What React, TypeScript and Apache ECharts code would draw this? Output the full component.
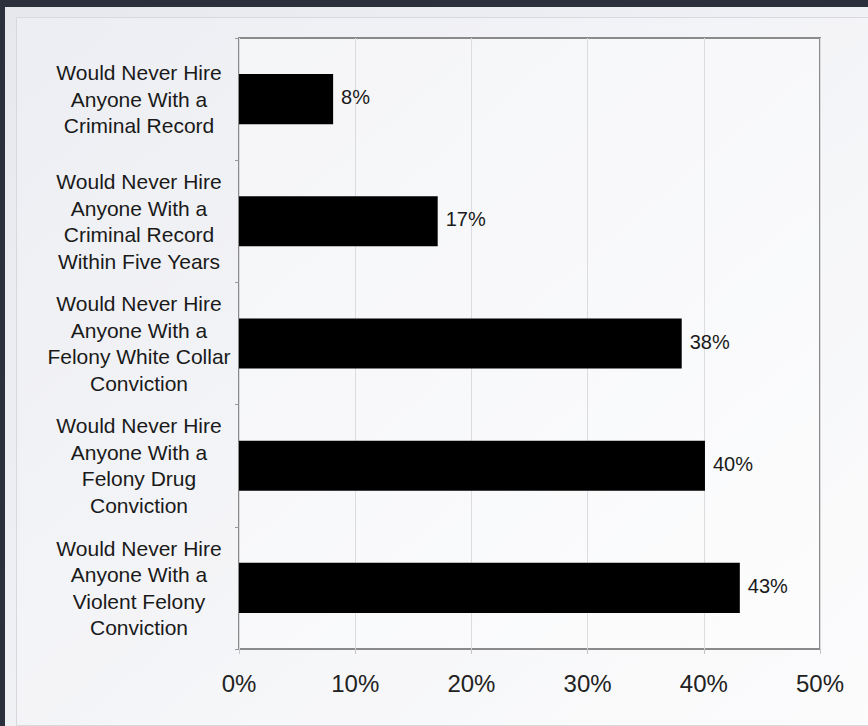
import React, { useEffect, useRef } from "react";
import * as echarts from "echarts";

const categories = [
  "Would Never Hire\nAnyone With a\nCriminal Record",
  "Would Never Hire\nAnyone With a\nCriminal Record\nWithin Five Years",
  "Would Never Hire\nAnyone With a\nFelony White Collar\nConviction",
  "Would Never Hire\nAnyone With a\nFelony Drug\nConviction",
  "Would Never Hire\nAnyone With a\nViolent Felony\nConviction",
];
const values = [8.1, 17.1, 38.1, 40.1, 43.1];
const valueLabels = ["8%", "17%", "38%", "40%", "43%"];

export default function App() {
  const ref = useRef<HTMLDivElement>(null);
  useEffect(() => {
    document.body.style.margin = "0";
    const chart = echarts.init(ref.current!, null, { renderer: "svg" });
    const font = "Liberation Sans, Arial, sans-serif";
    chart.setOption({
      animation: false,
      backgroundColor: {
        type: "linear",
        x: 0,
        y: 0,
        x2: 1,
        y2: 1,
        colorStops: [
          { offset: 0, color: "#e6e8ee" },
          { offset: 0.5, color: "#f0f1f5" },
          { offset: 1, color: "#fbfbfc" },
        ],
      },
      graphic: [
        { type: "rect", left: 0, top: 0, shape: { width: 868, height: 7 }, style: { fill: "#2b303c" }, z: -1 },
        { type: "rect", left: 0, top: 0, shape: { width: 5, height: 726 }, style: { fill: "#2b303c" }, z: -1 },
        {
          type: "rect",
          left: 16,
          top: 17,
          shape: { width: 860, height: 708 },
          style: { fill: "rgba(255,255,255,0.25)", stroke: "#d8d9de", lineWidth: 1 },
          z: -1,
        },
      ],
      grid: { left: 239, top: 38, right: 48, bottom: 77, show: true, borderColor: "#8a8a8a", borderWidth: 2, backgroundColor: "rgba(255,255,255,0.4)" },
      xAxis: {
        type: "value",
        min: 0,
        max: 50,
        interval: 10,
        axisLine: { show: false },
        axisTick: { show: true, length: 5, lineStyle: { color: "#c4c4c8" } },
        splitLine: { show: true, lineStyle: { color: "#dcdce0", width: 1 } },
        axisLabel: {
          formatter: (v: number) => v + "%",
          fontSize: 24,
          fontFamily: font,
          color: "#222",
          margin: 22,
        },
      },
      yAxis: {
        type: "category",
        data: categories,
        inverse: true,
        axisLine: { show: false },
        axisTick: { show: true, length: 4, lineStyle: { color: "#999" } },
        axisLabel: {
          fontSize: 21,
          fontFamily: font,
          color: "#1a1a1a",
          align: "center",
          margin: 100,
          lineHeight: 26.5,
        },
      },
      series: [
        {
          type: "bar",
          data: values,
          barCategoryGap: "59%",
          itemStyle: { color: "#000000" },
          label: {
            show: true,
            position: "right",
            distance: 8,
            formatter: (p: any) => valueLabels[p.dataIndex],
            fontSize: 20,
            fontFamily: font,
            color: "#1a1a1a",
            offset: [0, -2],
          },
        },
      ],
    });
    return () => chart.dispose();
  }, []);
  return <div ref={ref} style={{ width: 868, height: 726 }} />;
}
